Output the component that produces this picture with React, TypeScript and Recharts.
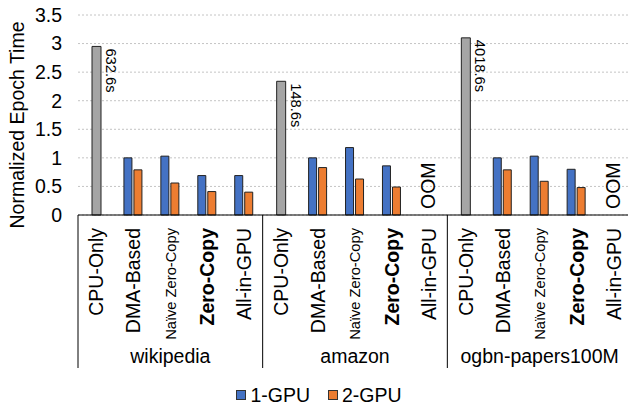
import React from "react";
import {
  BarChart,
  Bar,
  XAxis,
  YAxis,
  CartesianGrid,
  LabelList,
  Legend,
  ReferenceDot,
} from "recharts";

// datasets and methods
const groups = ["wikipedia", "amazon", "ogbn-papers100M"];
const methods = ["CPU-Only", "DMA-Based", "Naïve Zero-Copy", "Zero-Copy", "All-in-GPU"];

// normalized epoch time, one row per dataset, one column per method
const cpuOnly = [2.95, 2.34, 3.1];
const cpuSeconds = ["632.6s", "148.6s", "4018.6s"];
const oneGpu = [
  [null, 1.0, 1.03, 0.69, 0.69],
  [null, 1.0, 1.18, 0.86, null],
  [null, 1.0, 1.03, 0.8, null],
];
const twoGpu = [
  [null, 0.79, 0.56, 0.41, 0.4],
  [null, 0.83, 0.63, 0.49, null],
  [null, 0.79, 0.59, 0.48, null],
];
const oomCells = ["amazon|All-in-GPU", "ogbn-papers100M|All-in-GPU"];
const yTicks = [0, 0.5, 1, 1.5, 2, 2.5, 3, 3.5];

const data = groups.flatMap((g, gi) =>
  methods.map((m, mi) => ({
    key: `${g}|${m}`,
    cpu: mi === 0 ? cpuOnly[gi] : null,
    cpuLabel: mi === 0 ? cpuSeconds[gi] : "",
    gpu1: oneGpu[gi][mi],
    gpu2: twoGpu[gi][mi],
  }))
);

const FONT = "Liberation Sans, Arial, sans-serif";
const W = 628;
const H = 407;
const LEFT = 78;
const RIGHT = -4;
const BAND = (W - LEFT - RIGHT) / data.length;
const FS = 19.5;

function CategoryTick(props: any) {
  const { x, y, payload, index } = props;
  const [group, method] = String(payload.value).split("|");
  const small = method === "Naïve Zero-Copy";
  const bold = method === "Zero-Copy";
  const fs = small ? 14.7 : FS;
  return (
    <g>
      <text
        transform={`translate(${x + fs * 0.36},${y + 13}) rotate(-90)`}
        textAnchor="end"
        fontSize={fs}
        fontWeight={bold ? "bold" : "normal"}
        fontFamily={FONT}
        fill="#000"
      >
        {method}
      </text>
      {index % 5 === 2 && (
        <text x={x} y={y + 148} textAnchor="middle" fontSize={FS} fontFamily={FONT} fill="#000">
          {group}
        </text>
      )}
      {index % 5 === 0 && (
        <line x1={x - BAND / 2} x2={x - BAND / 2} y1={y} y2={y + 153} stroke="#000" strokeWidth={1} />
      )}
    </g>
  );
}

function CpuLabel(props: any) {
  const { x, y, width, value } = props;
  if (!value) return null;
  return (
    <text
      transform={`translate(${x + width + 5},${y + 2}) rotate(90)`}
      textAnchor="start"
      fontSize={14.7}
      fontFamily={FONT}
      fill="#000"
    >
      {value}
    </text>
  );
}

function OomLabel(props: any) {
  const { cx, cy } = props;
  return (
    <text
      transform={`translate(${cx + 6},${cy - 6}) rotate(-90)`}
      textAnchor="start"
      fontSize={FS}
      fontFamily={FONT}
      fill="#000"
    >
      OOM
    </text>
  );
}

function YTitle() {
  return (
    <text
      transform="translate(24,125) rotate(-90)"
      textAnchor="middle"
      fontSize={FS}
      fontFamily={FONT}
      fill="#000"
    >
      Normalized Epoch Time
    </text>
  );
}

function LegendContent(props: any) {
  const items = (props.payload || []).filter((p: any) => p.type !== "none");
  return (
    <div
      style={{
        display: "flex",
        justifyContent: "center",
        paddingLeft: 10,
        height: 20,
        alignItems: "center",
        fontFamily: FONT,
        fontSize: FS,
        color: "#000",
      }}
    >
      {items.map((p: any, i: number) => (
        <div key={p.value} style={{ display: "flex", alignItems: "center", marginLeft: i ? 18 : 0 }}>
          <span
            style={{
              display: "inline-block",
              width: 8,
              height: 8,
              background: p.color,
              border: "1px solid #333",
              marginRight: 4,
            }}
          />
          <span>{p.value}</span>
        </div>
      ))}
    </div>
  );
}

export default function App() {
  return (
    <div style={{ position: "fixed", left: 0, top: 0, width: W, height: H, background: "#fff" }}>
      <BarChart
        width={W}
        height={H}
        data={data}
        margin={{ top: 15, right: RIGHT, bottom: 22, left: 0 }}
        barGap={2}
      >
        <CartesianGrid vertical={false} stroke="#c4c4c4" strokeDasharray="2 2" />
        <XAxis
          xAxisId="pair"
          dataKey="key"
          interval={0}
          height={150}
          tickSize={0}
          tickMargin={0}
          tickLine={false}
          axisLine={{ stroke: "#000" }}
          tick={<CategoryTick />}
        />
        <XAxis xAxisId="single" dataKey="key" hide />
        <YAxis
          domain={[0, 3.5]}
          ticks={yTicks}
          width={LEFT}
          axisLine={false}
          tickLine={false}
          tickMargin={10}
          tick={{ fontSize: FS, fill: "#000", fontFamily: FONT }}
          label={{ content: <YTitle /> } as any}
        />
        <Bar
          xAxisId="single"
          dataKey="cpu"
          fill="#a5a5a5"
          stroke="#222"
          strokeWidth={1}
          barSize={9}
          legendType="none"
          isAnimationActive={false}
        >
          <LabelList dataKey="cpuLabel" content={<CpuLabel />} />
        </Bar>
        <Bar
          xAxisId="pair"
          dataKey="gpu1"
          name="1-GPU"
          fill="#4472c4"
          stroke="#222"
          strokeWidth={1}
          barSize={8}
          isAnimationActive={false}
        />
        <Bar
          xAxisId="pair"
          dataKey="gpu2"
          name="2-GPU"
          fill="#ed7d31"
          stroke="#222"
          strokeWidth={1}
          barSize={8}
          isAnimationActive={false}
        />
        {oomCells.map((c) => (
          <ReferenceDot
            key={c}
            xAxisId="pair"
            x={c}
            y={0}
            r={0}
            fill="none"
            stroke="none"
            shape={<OomLabel />}
          />
        ))}
        <Legend
          verticalAlign="bottom"
          content={<LegendContent />}
          wrapperStyle={{ position: "absolute", left: 0, width: W, top: 385, bottom: "auto", height: 20 }}
        />
      </BarChart>
    </div>
  );
}
